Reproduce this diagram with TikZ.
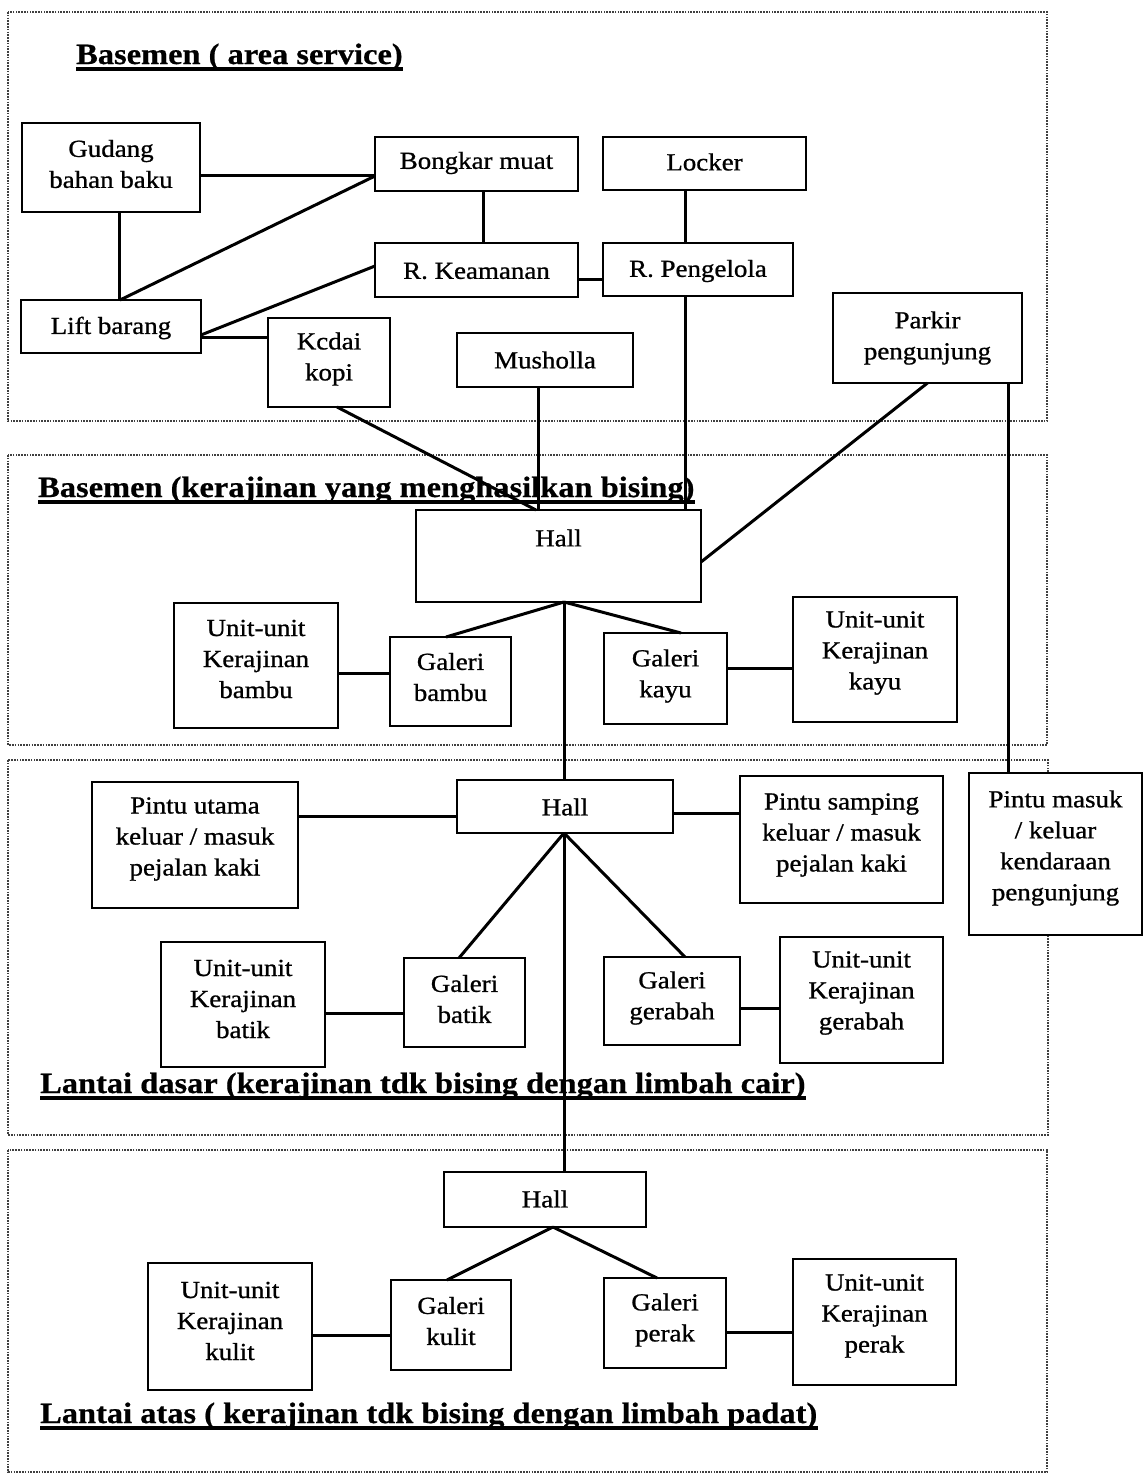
\documentclass[tikz,border=0pt]{standalone}
\usepackage{fontspec}
\setmainfont{Liberation Serif}[FakeStretch=1.1]
\newfontfamily\roomfont{Liberation Serif}[FakeStretch=1.1, FakeBold=0.9]
\newfontfamily\headfont{Liberation Serif}[FakeStretch=1.1, FakeBold=0.6]

% A room: box from (x1,y1) to (x2,y2), text block centred at height ty.
\newcommand\placeroom[7]{%
  \pgfmathsetmacro\rbw{#4-#2}\pgfmathsetmacro\rbh{#5-#3}%
  \pgfmathsetmacro\rbx{(#2+#4)/2}\pgfmathsetmacro\rby{(#3+#5)/2}%
  \node[room, minimum width=\rbw pt, minimum height=\rbh pt] (#1) at (\rbx,\rby) {};
  \node[roomlabel] (#1-text) at (\rbx,#6) {#7};
}

\begin{document}
\begin{tikzpicture}[x=1pt,y=-1pt,
  room/.style={draw, fill=white, line width=2.7pt, inner sep=0pt, outer sep=0pt},
  roomlabel/.style={align=center, inner sep=0pt, font=\roomfont\fontsize{24.5}{31}\selectfont},
  link/.style={line width=3pt},
  zone/.style={draw=black!75, line width=1.3pt, dash pattern=on 1.6pt off 1.2pt},
  heading/.style={anchor=base west, inner sep=0pt, font=\headfont\fontsize{29.5}{35}\selectfont\bfseries},
  headrule/.style={line width=3.2pt}]

\useasboundingbox (0,0) rectangle (1145,1475);

% floor zones
\draw[zone] (8,12) rectangle (1047,421);
\draw[zone] (8,455) rectangle (1047,745);
\draw[zone] (8,760) rectangle (1048,1135);
\draw[zone] (8,1150) rectangle (1047,1472);

% basement: service area
\placeroom{gudang}{22}{123}{200}{212}{164}{Gudang\\bahan baku}
\placeroom{bongkar}{375}{137}{578}{191}{163}{Bongkar muat}
\placeroom{locker}{603}{137}{806}{190}{162}{Locker}
\placeroom{keamanan}{375}{243}{578}{297}{271}{R. Keamanan}
\placeroom{pengelola}{603}{243}{793}{296}{271}{R. Pengelola}
\placeroom{lift}{21}{300}{201}{353}{328}{Lift barang}
\placeroom{kedai}{268}{318}{390}{407}{359}{Kcdai\\kopi}
\placeroom{musholla}{457}{333}{633}{387}{360}{Musholla}
\placeroom{parkir}{833}{293}{1022}{383}{338}{Parkir\\pengunjung}

% basement: noisy crafts
\placeroom{hallb}{416}{510}{701}{602}{538}{Hall}
\placeroom{unitbambu}{174}{603}{338}{728}{659}{Unit-unit\\Kerajinan\\bambu}
\placeroom{galbambu}{390}{637}{511}{726}{677}{Galeri\\bambu}
\placeroom{galkayu}{604}{633}{727}{724}{676}{Galeri\\kayu}
\placeroom{unitkayu}{793}{597}{957}{722}{653}{Unit-unit\\Kerajinan\\kayu}

% ground floor
\placeroom{hallld}{457}{780}{673}{833}{807}{Hall}
\placeroom{pintuutama}{92}{782}{298}{908}{839}{Pintu utama\\keluar / masuk\\pejalan kaki}
\placeroom{pintusamping}{740}{776}{943}{903}{835}{Pintu samping\\keluar / masuk\\pejalan kaki}
\placeroom{pintumasuk}{969}{773}{1142}{935}{848}{Pintu masuk\\/ keluar\\kendaraan\\pengunjung}
\placeroom{unitbatik}{161}{942}{325}{1067}{999}{Unit-unit\\Kerajinan\\batik}
\placeroom{galbatik}{404}{958}{525}{1047}{999}{Galeri\\batik}
\placeroom{galgerabah}{604}{957}{740}{1045}{998}{Galeri\\gerabah}
\placeroom{unitgerabah}{780}{937}{943}{1063}{993}{Unit-unit\\Kerajinan\\gerabah}

% upper floor
\placeroom{hallla}{444}{1172}{646}{1227}{1199}{Hall}
\placeroom{unitkulit}{148}{1263}{312}{1390}{1321}{Unit-unit\\Kerajinan\\kulit}
\placeroom{galkulit}{391}{1280}{511}{1370}{1321}{Galeri\\kulit}
\placeroom{galperak}{604}{1278}{726}{1368}{1320}{Galeri\\perak}
\placeroom{unitperak}{793}{1259}{956}{1385}{1316}{Unit-unit\\Kerajinan\\perak}

% links: service area
\draw[link] ([yshift=-7.5]gudang.east) -- ([yshift=-7.5]gudang.east -| bongkar.west);
\draw[link] ([xshift=8]gudang.south) -- ([xshift=8]gudang.south |- lift.north);
\draw[link] ([xshift=9]lift.north) -- ([yshift=-12]bongkar.west);
\draw[link] ([yshift=-8.5]lift.east) -- ([yshift=4]keamanan.west);
\draw[link] ([yshift=-10.5]lift.east) -- ([yshift=-10.5]lift.east -| kedai.west);
\draw[link] ([xshift=6.5]bongkar.south) -- ([xshift=6.5]bongkar.south |- keamanan.north);
\draw[link] ([xshift=-19.5]locker.south) -- ([xshift=-19.5]locker.south |- pengelola.north);
\draw[link] ([yshift=-9]keamanan.east) -- ([yshift=-9]keamanan.east -| pengelola.west);
\draw[link] ([xshift=-13]pengelola.south) -- ([xshift=-13]pengelola.south |- hallb.north);
\draw[link] ([xshift=-7]musholla.south) -- ([xshift=-7]musholla.south |- hallb.north);
\draw[link] ([xshift=8]kedai.south) -- ([xshift=-22.5]hallb.north);
\draw[link] (parkir.south) -- ([yshift=-6]hallb.east);
\draw[link] ([xshift=80.5]parkir.south) -- ([xshift=80.5]parkir.south |- pintumasuk.north);

% links: noisy crafts
\draw[link] ([xshift=5.5]hallb.south) -- ([xshift=-4.5]galbambu.north);
\draw[link] ([xshift=5.5]hallb.south) -- ([xshift=15.5]galkayu.north);
\draw[link] ([xshift=5.5]hallb.south) -- ([xshift=5.5]hallb.south |- hallld.north);
\draw[link] ([yshift=-7.5]unitbambu.east) -- ([yshift=-7.5]unitbambu.east -| galbambu.west);
\draw[link] ([yshift=10.5]galkayu.east) -- ([yshift=10.5]galkayu.east -| unitkayu.west);

% links: ground floor
\draw[link] ([yshift=29]pintuutama.east) -- ([yshift=29]pintuutama.east -| hallld.west);
\draw[link] ([yshift=-6.5]hallld.east) -- ([yshift=-6.5]hallld.east -| pintusamping.west);
\draw[link] ([xshift=-1]hallld.south) -- ([xshift=-5.5]galbatik.north);
\draw[link] ([xshift=-1]hallld.south) -- ([xshift=13]galgerabah.north);
\draw[link] ([xshift=-1]hallld.south) -- ([xshift=-1]hallld.south |- hallla.north);
\draw[link] ([yshift=-8.5]unitbatik.east) -- ([yshift=-8.5]unitbatik.east -| galbatik.west);
\draw[link] ([yshift=-7]galgerabah.east) -- ([yshift=-7]galgerabah.east -| unitgerabah.west);

% links: upper floor
\draw[link] ([xshift=8]hallla.south) -- ([xshift=-4]galkulit.north);
\draw[link] ([xshift=8]hallla.south) -- ([xshift=-8]galperak.north);
\draw[link] ([yshift=-8.5]unitkulit.east) -- ([yshift=-8.5]unitkulit.east -| galkulit.west);
\draw[link] ([yshift=-9]galperak.east) -- ([yshift=-9]galperak.east -| unitperak.west);

% zone headings
\node[heading] (head1) at (76,64) {Basemen ( area service)};
\node[heading] (head2) at (38,497) {Basemen (kerajinan yang menghasilkan bising)};
\node[heading] (head3) at (40,1093) {Lantai dasar (kerajinan tdk bising dengan limbah cair)};
\node[heading] (head4) at (40,1423) {Lantai atas ( kerajinan tdk bising dengan limbah padat)};
\foreach \h in {head1,head2,head3,head4}
  \draw[headrule] ([yshift=-5]\h.base west) -- ([yshift=-5]\h.base east);

\end{tikzpicture}
\end{document}
